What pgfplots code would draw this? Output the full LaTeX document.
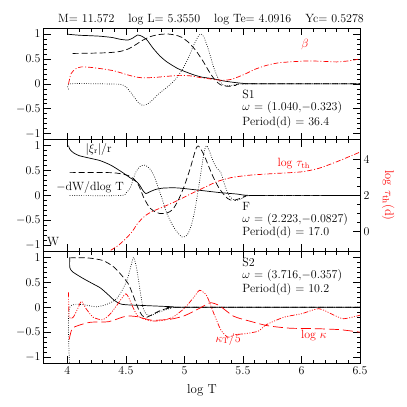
\documentclass[border=0pt]{standalone}
\usepackage{pgfplots}
\pgfplotsset{compat=1.18}

% line styles of the original plot
\tikzset{
  sol/.style={black, line width=0.7bp},
  dsh/.style={black, line width=0.7bp, dash pattern=on 6bp off 3bp},
  dot/.style={black, line width=0.7bp, dash pattern=on 0.7bp off 1.6bp},
  rdd/.style={red, line width=0.7bp, dash pattern=on 5bp off 2bp on 1bp off 2bp},
  rddd/.style={red, line width=0.7bp, dash pattern=on 5bp off 1.5bp on 1bp off 1.5bp on 1bp off 1.5bp on 1bp off 1.5bp},
  rld/.style={red, line width=0.7bp, dash pattern=on 10bp off 4bp},
  lbl/.style={font=\fontsize{12}{12}\selectfont, inner sep=0.5bp},
}

\pgfplotsset{
  panel/.style={
    width=316bp, height=111.7bp, scale only axis,
    xmin=3.8, xmax=6.5, ymin=-1.12, ymax=1.12,
    xtick={4,4.5,5,5.5,6,6.5}, ytick={-1,-0.5,0,0.5,1},
    minor x tick num=4, minor y tick num=4,
    tick align=inside, major tick length=7bp, minor tick length=3.5bp,
    axis line style={line width=1bp},
    every tick/.style={line width=0.6bp, black},
    tick label style={font=\fontsize{12}{12}\selectfont},
    every axis plot/.append style={smooth, tension=0.4},
  },
}

\begin{document}
\begin{tikzpicture}
\path[use as bounding box] (-44bp,28bp) rectangle (363bp,-379bp);

% ---------- S1 ----------
\begin{axis}[panel, name=p1, at={(0,0)}, anchor=north west, xticklabels={}]
\addplot[sol] coordinates {(4.005,0.995)(4.10,0.975)(4.2,0.965)(4.28,0.955)(4.38,0.93)(4.46,0.89)(4.52,0.88)(4.56,0.92)(4.60,0.98)(4.64,0.95)(4.68,0.88)(4.73,0.72)(4.79,0.56)(4.85,0.44)(4.94,0.31)(5.0,0.25)(5.08,0.18)(5.15,0.135)(5.25,0.1)(5.33,0.06)(5.42,0.03)(5.5,0.01)(5.6,0)(6.5,0)};
\addplot[dsh] coordinates {(4.045,0.61)(4.2,0.615)(4.35,0.625)(4.45,0.65)(4.52,0.70)(4.58,0.78)(4.64,0.87)(4.70,0.94)(4.77,0.985)(4.85,1.0)(4.92,0.98)(4.98,0.93)(5.04,0.82)(5.10,0.66)(5.16,0.45)(5.21,0.25)(5.26,0.08)(5.31,-0.02)(5.37,-0.05)(5.44,-0.03)(5.52,0)(6.5,0)};
\addplot[dot] coordinates {(4.01,-0.11)(4.02,0)(4.3,0)(4.45,-0.01)(4.5,-0.06)(4.55,-0.2)(4.6,-0.36)(4.64,-0.43)(4.68,-0.41)(4.72,-0.34)(4.78,-0.2)(4.85,-0.07)(4.92,0.08)(4.98,0.28)(5.03,0.5)(5.08,0.78)(5.12,0.96)(5.145,1.0)(5.17,0.92)(5.21,0.65)(5.25,0.33)(5.29,0.1)(5.33,-0.02)(5.38,-0.04)(5.45,-0.01)(5.55,0)(6.5,0)};
\addplot[rdd] coordinates {(4.01,0.0)(4.03,0.2)(4.07,0.3)(4.12,0.34)(4.2,0.33)(4.3,0.3)(4.4,0.26)(4.5,0.19)(4.58,0.14)(4.65,0.12)(4.75,0.13)(4.85,0.15)(4.95,0.17)(5.05,0.16)(5.15,0.12)(5.25,0.09)(5.33,0.07)(5.40,0.09)(5.46,0.14)(5.53,0.21)(5.6,0.29)(5.7,0.37)(5.8,0.42)(5.9,0.44)(6.05,0.46)(6.2,0.45)(6.3,0.44)(6.4,0.46)(6.5,0.5)};
\node[lbl, red] at (axis cs:6.03,0.79) {$\beta$};
\node[lbl, anchor=base west] at (axis cs:5.49,-0.29) {S1};
\node[lbl, anchor=base west] at (axis cs:5.49,-0.54) {$\omega$ = (1.040,$-$0.323)};
\node[lbl, anchor=base west] at (axis cs:5.49,-0.83) {Period(d) = 36.4};
\end{axis}
\node[anchor=base, font=\fontsize{12}{14}\selectfont] at ([xshift=167bp,yshift=5.5bp]p1.north west)
  {M= 11.572\hspace{14bp}log L= 5.3550\hspace{14bp}log Te= 4.0916\hspace{14bp}Yc= 0.5278};

% ---------- F ----------
\begin{axis}[panel, name=p2, at={(p1.south west)}, anchor=north west, xticklabels={}, ytick pos=left]
\addplot[sol] coordinates {(4.01,1.0)(4.02,0.93)(4.05,0.86)(4.1,0.80)(4.19,0.75)(4.28,0.70)(4.37,0.61)(4.46,0.48)(4.54,0.35)(4.59,0.28)(4.62,0.2)(4.645,0.1)(4.67,0.04)(4.70,0.07)(4.75,0.12)(4.82,0.15)(4.92,0.155)(5.0,0.14)(5.15,0.10)(5.3,0.06)(5.45,0.03)(5.6,0.0)(6.5,0)};
\addplot[dsh] coordinates {(4.02,0.46)(4.36,0.46)(4.45,0.44)(4.52,0.40)(4.57,0.33)(4.61,0.2)(4.65,-0.03)(4.69,-0.2)(4.73,-0.3)(4.79,-0.36)(4.85,-0.35)(4.9,-0.28)(4.95,-0.08)(5.0,0.2)(5.05,0.55)(5.09,0.88)(5.11,0.99)(5.13,0.97)(5.17,0.8)(5.21,0.57)(5.25,0.35)(5.29,0.17)(5.33,0.04)(5.37,-0.06)(5.41,-0.1)(5.46,-0.07)(5.52,-0.02)(5.58,0)(6.5,0)};
\addplot[dot] coordinates {(4.02,0)(4.45,0)(4.5,0.05)(4.54,0.17)(4.58,0.45)(4.62,0.58)(4.66,0.61)(4.70,0.55)(4.74,0.4)(4.77,0.2)(4.80,0.0)(4.85,-0.36)(4.90,-0.6)(4.94,-0.74)(4.98,-0.83)(5.02,-0.8)(5.05,-0.66)(5.08,-0.4)(5.11,0.0)(5.14,0.45)(5.17,0.9)(5.19,1.0)(5.22,0.85)(5.25,0.66)(5.28,0.54)(5.31,0.47)(5.35,0.17)(5.39,-0.03)(5.44,-0.1)(5.5,-0.05)(5.58,0)(6.5,0)};
\node[lbl, anchor=west] at (axis cs:4.15,0.93) {$|\xi_{\rm r}|/{\rm r}$};
\node[lbl, anchor=west] at (axis cs:3.9,0.16) {$-$dW/dlog T};
\node[lbl, anchor=west] at (axis cs:3.82,-0.92) {W};
\node[lbl, red, anchor=west] at (axis cs:5.79,0.64) {log $\tau_{\rm th}$};
\node[lbl, anchor=base west] at (axis cs:5.49,-0.30) {F};
\node[lbl, anchor=base west] at (axis cs:5.49,-0.54) {$\omega$ = (2.223,$-$0.0827)};
\node[lbl, anchor=base west] at (axis cs:5.49,-0.80) {Period(d) = 17.0};
\end{axis}
\begin{axis}[panel, at={(p1.south west)}, anchor=north west,
  ymin=-1.111, ymax=5.111, axis x line=none, axis y line*=right,
  ytick={0,2,4}, minor y tick num=3,
  ylabel={log $\tau_{\rm th}$(d)},
  ylabel style={red, font=\fontsize{12.5}{14}\selectfont, rotate=180, at={(axis description cs:1.089,0.5)}, anchor=center}]
\addplot[rdd] coordinates {(4.37,-1.05)(4.44,-0.75)(4.51,-0.33)(4.56,0.05)(4.60,0.45)(4.66,0.85)(4.72,1.1)(4.82,1.37)(4.94,1.72)(5.05,2.08)(5.16,2.42)(5.28,2.78)(5.40,3.0)(5.55,3.13)(5.75,3.22)(6.0,3.32)(6.15,3.52)(6.3,3.88)(6.5,4.42)};
\end{axis}

% ---------- S2 ----------
\begin{axis}[panel, name=p3, at={(p2.south west)}, anchor=north west,
  xlabel={log T},
  xlabel style={font=\fontsize{13}{15}\selectfont, at={(axis description cs:0.5,0)}, anchor=base, yshift=-30bp}]
\addplot[sol] coordinates {(4.02,1.0)(4.02,0.8)(4.04,0.72)(4.09,0.64)(4.14,0.57)(4.21,0.48)(4.28,0.39)(4.34,0.27)(4.40,0.14)(4.45,0.07)(4.5,0.05)(4.7,0.03)(4.9,0.01)(5.0,0)(6.5,0)};
\addplot[dsh] coordinates {(4.02,0.99)(4.17,0.99)(4.3,0.94)(4.39,0.82)(4.46,0.65)(4.52,0.47)(4.56,0.25)(4.6,0.0)(4.64,-0.17)(4.68,-0.2)(4.73,-0.14)(4.8,-0.06)(4.88,-0.01)(4.95,0)(6.5,0)};
\addplot[dot] coordinates {(4.02,-1.2)(4.02,0)(4.25,0.01)(4.35,0.07)(4.42,0.17)(4.47,0.35)(4.51,0.55)(4.54,0.8)(4.565,1.0)(4.59,0.8)(4.62,0.35)(4.645,0.0)(4.67,-0.13)(4.71,-0.17)(4.78,-0.1)(4.88,-0.02)(4.95,0)(6.5,0)};
\addplot[rddd] coordinates {(4.01,0.3)(4.015,-0.2)(4.05,-0.2)(4.09,-0.02)(4.12,0.12)(4.16,-0.03)(4.22,-0.2)(4.3,-0.25)(4.36,-0.15)(4.42,0.03)(4.5,0.27)(4.55,0.05)(4.6,-0.17)(4.7,-0.27)(4.8,-0.27)(4.9,-0.2)(5.0,-0.02)(5.08,0.2)(5.13,0.34)(5.19,0.23)(5.25,-0.12)(5.31,-0.45)(5.37,-0.6)(5.43,-0.55)(5.52,-0.53)(5.63,-0.48)(5.7,-0.35)(5.85,-0.2)(6.0,-0.13)(6.15,-0.03)(6.27,-0.15)(6.36,-0.23)(6.5,-0.16)};
\addplot[rld] coordinates {(4.015,-0.65)(4.04,-0.43)(4.1,-0.36)(4.2,-0.3)(4.35,-0.29)(4.5,-0.18)(4.6,-0.19)(4.72,-0.26)(4.88,-0.24)(5.0,-0.17)(5.13,-0.02)(5.22,0.09)(5.3,0.03)(5.42,-0.18)(5.56,-0.28)(5.71,-0.37)(5.9,-0.42)(6.13,-0.43)(6.33,-0.45)(6.5,-0.5)};
\node[lbl, anchor=base west] at (axis cs:5.49,0.81) {S2};
\node[lbl, anchor=base west] at (axis cs:5.49,0.57) {$\omega$ = (3.716,$-$0.357)};
\node[lbl, anchor=base west] at (axis cs:5.49,0.30) {Period(d) = 10.2};
\node[lbl, red, anchor=west] at (axis cs:5.26,-0.64) {$\kappa_{\rm T}/5$};
\node[lbl, red, anchor=west] at (axis cs:5.99,-0.56) {log $\kappa$};
\end{axis}
\end{tikzpicture}
\end{document}
